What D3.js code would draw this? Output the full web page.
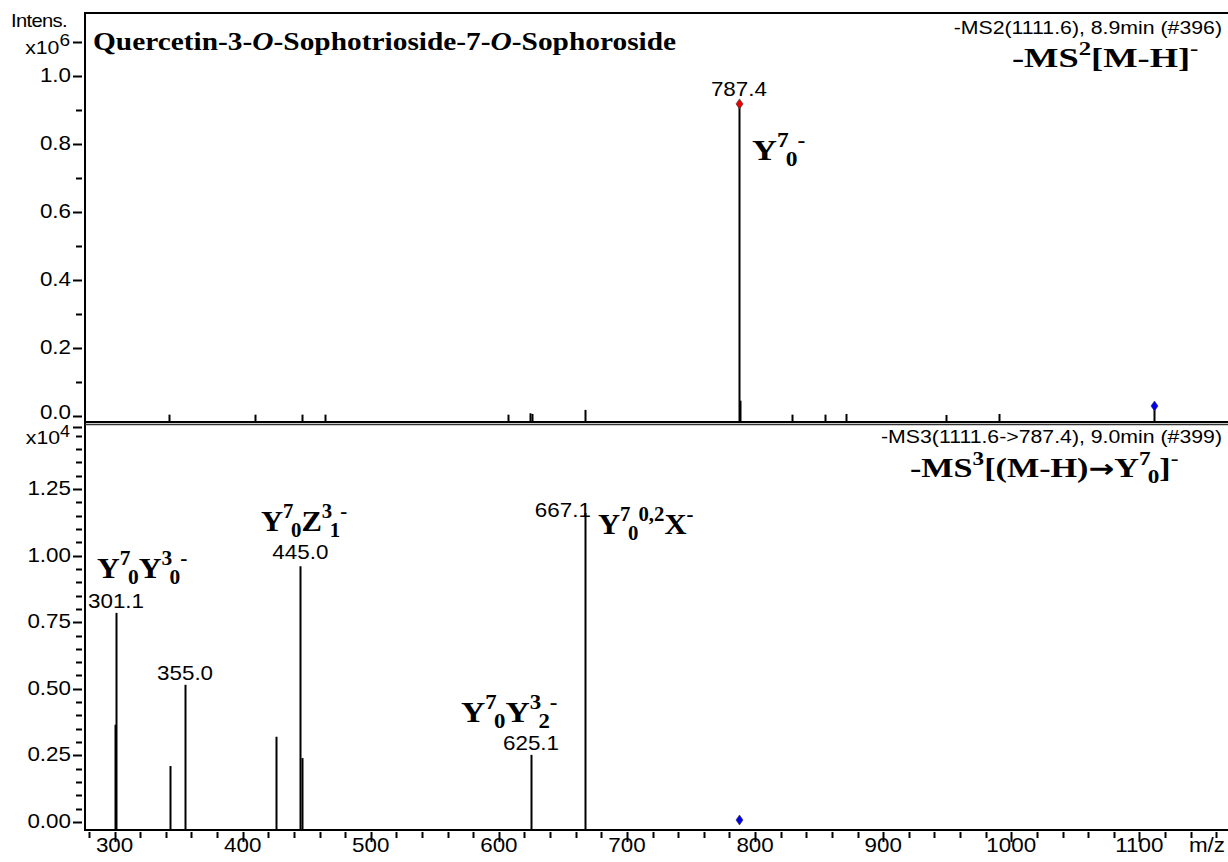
<!DOCTYPE html>
<html>
<head>
<meta charset="utf-8">
<script src="https://cdn.jsdelivr.net/npm/d3@7/dist/d3.min.js"></script>
<style>
  body { margin: 0; background: #fff; }
  svg { display: block; }
  .sans { font-family: "Liberation Sans", Arial, sans-serif; }
  .serif { font-family: "Liberation Serif", "Times New Roman", serif; font-weight: bold; }
</style>
</head>
<body>
<svg id="chart" width="1228" height="862"></svg>
<script>
// MS2 spectrum (intensity x10^6)
var ms2Mz  = [342.5, 409.6, 446.3, 464.3, 607.1, 624.3, 625.8, 667.2, 787.4, 788.6, 828.8, 854.5, 870.9, 949.0, 990.4];
var ms2Int = [0.004, 0.004, 0.004, 0.004, 0.004, 0.008, 0.006, 0.018, 0.918, 0.045, 0.004, 0.004, 0.006, 0.003, 0.006];
var ms2Labels = [{mz: 787.4, text: "787.4"}];
var ms2Precursor = 1111.6;

// MS3 spectrum (intensity x10^4)
var ms3Mz  = [300.0, 301.1, 343.0, 355.0, 426.0, 445.0, 446.0, 625.1, 667.1];
var ms3Int = [0.365, 0.785, 0.21, 0.515, 0.32, 0.96, 0.24, 0.252, 1.16];
var ms3Labels = [
  {mz: 301.1, text: "301.1"},
  {mz: 355.0, text: "355.0"},
  {mz: 445.0, text: "445.0"},
  {mz: 625.1, text: "625.1"},
  {mz: 667.1, text: "667.1"}
];
var ms3Precursor = 787.4;

var xTicksMajor = [300, 400, 500, 600, 700, 800, 900, 1000, 1100];
var ms2TickLabels = ["0.0", "0.2", "0.4", "0.6", "0.8", "1.0"];
var ms3TickLabels = ["0.00", "0.25", "0.50", "0.75", "1.00", "1.25"];

var svg = d3.select("#chart");

var left = 85, right = 1228;
var x = d3.scaleLinear().domain([276.9, 1169.2]).range([left, right]);
var yTop = d3.scaleLinear().domain([0, 1]).range([416, 76]);
var yBot = d3.scaleLinear().domain([0, 1.25]).range([822, 489]);
var topAxisY = 422, botAxisY = 830;
var SX = 1.12, FS = 20;

// sans text, a bit wider than normal like the original export
function stext(parent, xx, yy, str, anchor, size) {
  return parent.append("text").attr("class", "sans")
    .attr("transform", "translate(" + xx + "," + yy + ") scale(" + SX + ",1)")
    .attr("text-anchor", anchor || "middle").attr("font-size", size || FS).text(str);
}

// ---- frame lines
svg.append("line").attr("x1", left).attr("x2", right).attr("y1", 13).attr("y2", 13)
  .attr("stroke", "#000").attr("stroke-width", 2);
svg.append("line").attr("x1", left).attr("x2", left).attr("y1", 12).attr("y2", botAxisY + 1)
  .attr("stroke", "#000").attr("stroke-width", 2);
svg.append("line").attr("x1", left).attr("x2", right).attr("y1", topAxisY).attr("y2", topAxisY)
  .attr("stroke", "#000").attr("stroke-width", 2);
svg.append("line").attr("x1", left).attr("x2", right).attr("y1", topAxisY + 2.5).attr("y2", topAxisY + 2.5)
  .attr("stroke", "#333").attr("stroke-width", 1.5);
svg.append("line").attr("x1", left).attr("x2", right).attr("y1", botAxisY).attr("y2", botAxisY)
  .attr("stroke", "#000").attr("stroke-width", 2);

var g = svg.append("g");

// ---- y ticks (upper)
d3.range(0, 12).forEach(function(i) {
  var yy = Math.round(yTop(i / 10)) + 0.5, major = (i % 2 == 0) || i == 11;
  g.append("line").attr("x1", major ? 73 : 76).attr("x2", 82).attr("y1", yy).attr("y2", yy)
    .attr("stroke", "#000").attr("stroke-width", 2);
});
ms2TickLabels.forEach(function(t, i) {
  // the 0.0 label sits a bit higher so it clears the x10^4 label below
  stext(g, 71, yTop(i * 0.2) + (i == 0 ? 3 : 6), t, "end");
});

// ---- y ticks (lower)
d3.range(0, 30).forEach(function(i) {
  var yy = Math.round(yBot(i * 0.05)) + 0.5, major = (i % 5 == 0);
  g.append("line").attr("x1", major ? 73 : 76).attr("x2", 82).attr("y1", yy).attr("y2", yy)
    .attr("stroke", "#000").attr("stroke-width", 2);
});
g.append("line").attr("x1", 73).attr("x2", 82).attr("y1", 427.5).attr("y2", 427.5)
  .attr("stroke", "#000").attr("stroke-width", 2);
ms3TickLabels.forEach(function(t, i) {
  stext(g, 71, yBot(i * 0.25) + 6, t, "end");
});

// exponent labels
stext(g, 39, 27, "Intens.", "middle", 18).attr("letter-spacing", "-0.6px");
var e6 = stext(g, 70, 54, "", "end", 19);
e6.append("tspan").text("x10");
e6.append("tspan").attr("dy", -8).attr("font-size", 17).text("6");
var e4 = stext(g, 70, 444, "", "end", 19);
e4.append("tspan").text("x10");
e4.append("tspan").attr("dy", -7).attr("font-size", 16).text("4");

// ---- x axis ticks
d3.range(280, 1170, 20).forEach(function(m) {
  var xx = Math.round(x(m)) + 0.5, major = (m % 100 == 0);
  g.append("line").attr("x1", xx).attr("x2", xx).attr("y1", botAxisY + 2).attr("y2", botAxisY + (major ? 12 : 8))
    .attr("stroke", "#000").attr("stroke-width", 2);
});
xTicksMajor.forEach(function(m) {
  stext(g, x(m), 852, m, "middle");
});
stext(g, 1207, 852, "m/z", "middle");

// ---- spectra
function drawPeaks(mz, inten, y, base) {
  svg.append("g").selectAll("line").data(mz).join("line")
    .attr("x1", function(d) { return Math.round(x(d)) + 0.5; })
    .attr("x2", function(d) { return Math.round(x(d)) + 0.5; })
    .attr("y1", base)
    .attr("y2", function(d, i) { return y(inten[i]); })
    .attr("stroke", "#000").attr("stroke-width", 2);
}
drawPeaks(ms2Mz, ms2Int, yTop, topAxisY);
drawPeaks(ms3Mz, ms3Int, yBot, botAxisY);

function diamond(cx, cy, fill) {
  svg.append("path")
    .attr("d", "M" + cx + "," + (cy - 5) + "L" + (cx + 3.5) + "," + cy + "L" + cx + "," + (cy + 5) + "L" + (cx - 3.5) + "," + cy + "Z")
    .attr("fill", fill).attr("stroke", "#333").attr("stroke-width", 0.6);
}
// precursor markers
var pxTop = Math.round(x(ms2Precursor)) + 0.5;
svg.append("line").attr("x1", pxTop).attr("x2", pxTop).attr("y1", topAxisY).attr("y2", 408)
  .attr("stroke", "#000").attr("stroke-width", 2);
diamond(pxTop, 406, "#0000ee");
diamond(Math.round(x(ms3Precursor)) + 0.5, 820, "#0000ee");
// selected peak marker
diamond(Math.round(x(787.4)) + 0.5, yTop(ms2Int[ms2Mz.indexOf(787.4)]), "#ee0000");

// peak labels
function peakLabels(labels, mz, inten, y, offsets) {
  labels.forEach(function(l) {
    var i = mz.indexOf(l.mz), off = offsets[l.text] || [0, 0];
    stext(g, x(l.mz) + off[0], y(inten[i]) - 5 + off[1], l.text, "middle");
  });
}
peakLabels(ms2Labels, ms2Mz, ms2Int, yTop, {"787.4": [0, -3]});
peakLabels(ms3Labels, ms3Mz, ms3Int, yBot, {"667.1": [-22, 9], "445.0": [0, -2]});

// ---- rich annotation text (bold serif with super/subscripts)
function rich(xx, yy, size, sx, parts, anchor) {
  var t = svg.append("text").attr("class", "serif")
    .attr("transform", "translate(" + xx + "," + yy + ") scale(" + sx + ",1)")
    .attr("font-size", size).attr("text-anchor", anchor || "start");
  var cur = 0;
  parts.forEach(function(p) {
    var kind = p[1] || "n", target = 0, fs = size, dx = 0;
    if (kind == "sup") { target = -0.42 * size; fs = 0.68 * size; }
    if (kind == "sub") { target = 0.2 * size; fs = 0.68 * size; dx = -0.08 * size; }
    var s = t.append("tspan").attr("dy", target - cur).attr("font-size", fs).text(p[0]);
    if (dx) s.attr("dx", dx);
    if (kind == "i") s.attr("font-style", "italic");
    if (kind == "arrow") s.attr("font-family", "DejaVu Sans").attr("font-size", size * 0.9);
    cur = target;
  });
  return t;
}

rich(93, 50, 26, 1.13, [["Quercetin-3-"], ["O", "i"], ["-Sophotrioside-7-"], ["O", "i"], ["-Sophoroside"]]);
stext(g, 1222, 34, "-MS2(1111.6), 8.9min (#396)", "end", 19);
rich(1012, 67, 28, 1.3, [["-MS"], ["2", "sup"], ["[M-H]"], ["-", "sup"]]);
rich(752, 160, 30, 1.15, [["Y"], ["7", "sup"], ["0", "sub"], ["-", "sup"]]);

stext(g, 1222, 443, "-MS3(1111.6->787.4), 9.0min (#399)", "end", 19);
rich(910, 477, 28, 1.22, [["-MS"], ["3", "sup"], ["[(M-H)"], ["\u2192", "arrow"], ["Y"], ["7", "sup"], ["0", "sub"], ["]"], ["-", "sup"]]);
rich(261, 531, 30, 1.02, [["Y"], ["7", "sup"], ["0", "sub"], ["Z"], ["3", "sup"], ["1", "sub"], ["-", "sup"]]);
rich(97, 578, 30, 1.05, [["Y"], ["7", "sup"], ["0", "sub"], ["Y"], ["3", "sup"], ["0", "sub"], ["-", "sup"]]);
rich(598, 534, 30, 1.02, [["Y"], ["7", "sup"], ["0", "sub"], ["0,2", "sup"], ["X"], ["-", "sup"]]);
rich(461, 722, 30, 1.12, [["Y"], ["7", "sup"], ["0", "sub"], ["Y"], ["3", "sup"], ["2", "sub"], ["-", "sup"]]);
</script>
</body>
</html>
